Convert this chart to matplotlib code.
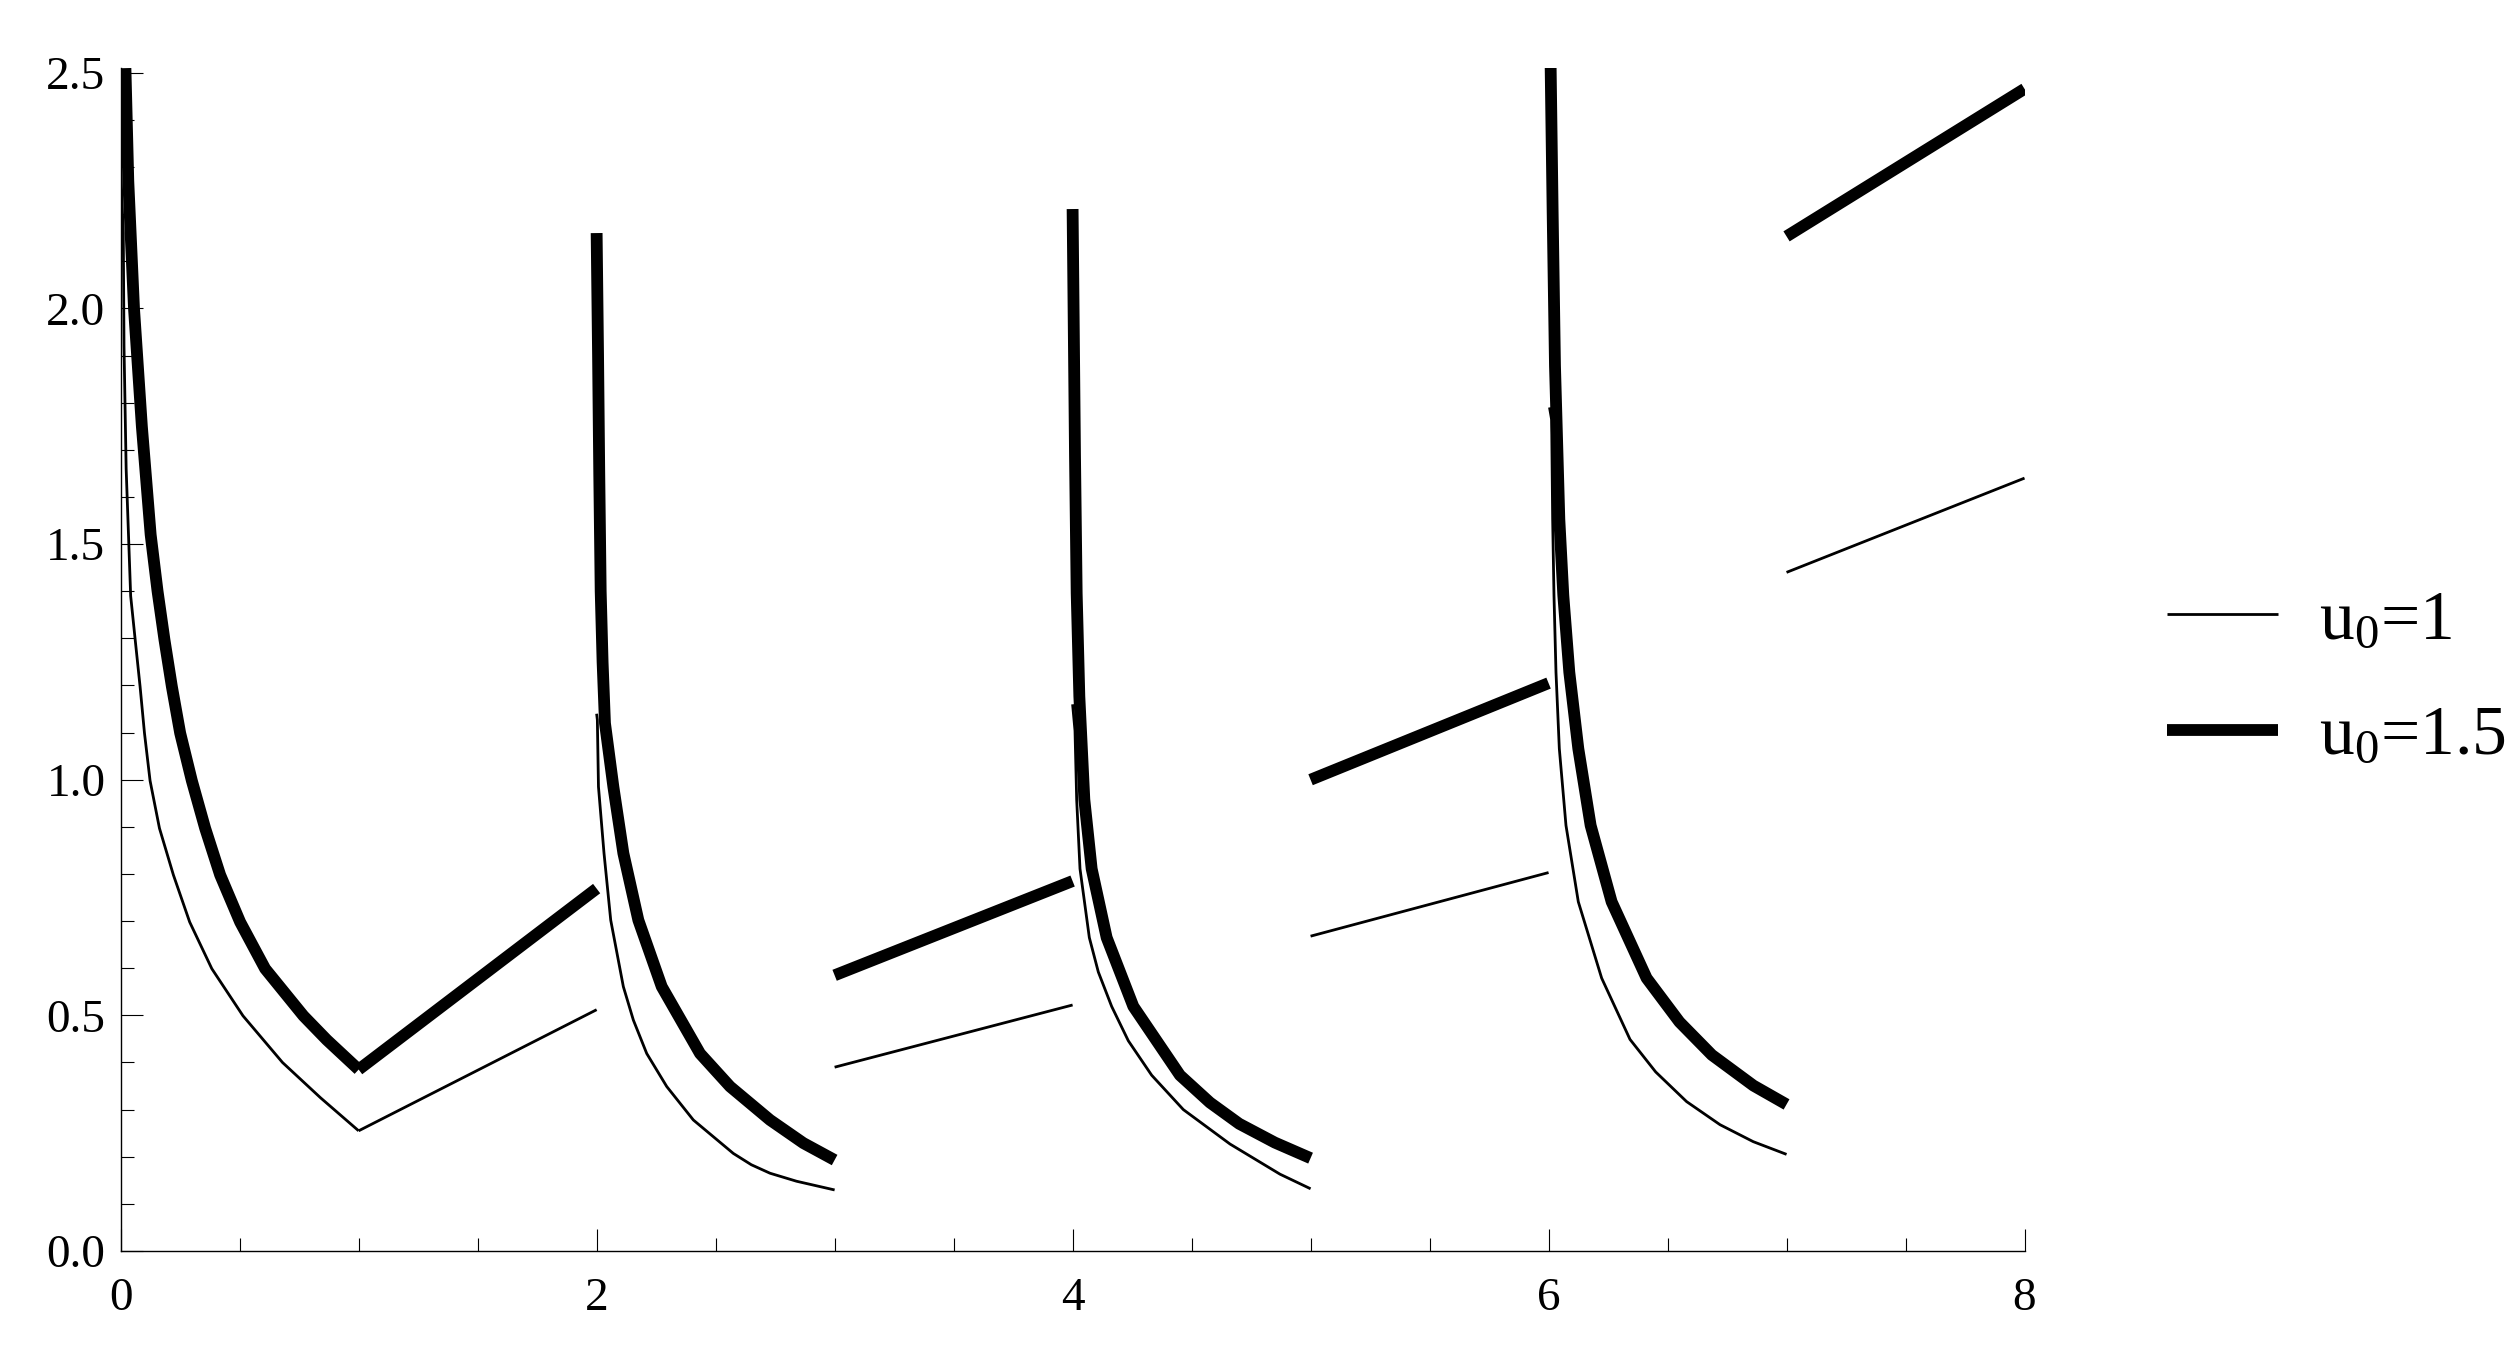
import matplotlib
matplotlib.use("Agg")
import matplotlib.pyplot as plt
import numpy as np

plt.rcParams["font.family"] = ["Liberation Serif", "DejaVu Serif"]
plt.rcParams["mathtext.default"] = "regular"

# u0 = 1 (thin line), one list per time interval
thin_t = [
    [0.0, 0.011, 0.014, 0.023, 0.042, 0.061, 0.0815, 0.10, 0.1235, 0.163, 0.2215,
     0.29, 0.383, 0.514, 0.68, 0.84, 1.0],
    [1.0, 2.0],
    [2.0, 2.003, 2.0077, 2.031, 2.0592, 2.1122, 2.1543, 2.2105, 2.2945, 2.4063,
     2.5744, 2.65, 2.7286, 2.84, 3.0],
    [3.0, 4.0],
    [4.0, 4.0101, 4.0171, 4.0311, 4.0703, 4.1081, 4.1641, 4.2342, 4.3322, 4.4653,
     4.6613, 4.8714, 5.0],
    [5.0, 6.0],
    [6.004, 6.0129, 6.0172, 6.0228, 6.0312, 6.0452, 6.0732, 6.125, 6.2231, 6.3422,
     6.45, 6.58, 6.7204, 6.86, 7.0],
    [7.0, 8.0],
]
thin_u = [
    [2.3, 2.16, 1.92, 1.66, 1.39, 1.297, 1.198, 1.099, 0.998, 0.897, 0.798,
     0.698, 0.599, 0.499, 0.40, 0.325, 0.255],
    [0.255, 0.512],
    [1.14, 1.127, 0.985, 0.844, 0.702, 0.561, 0.49, 0.419, 0.349, 0.278,
     0.207, 0.183, 0.165, 0.148, 0.1295],
    [0.39, 0.522],
    [1.16, 1.104, 0.958, 0.811, 0.665, 0.592, 0.519, 0.446, 0.373, 0.30,
     0.227, 0.163, 0.132],
    [0.668, 0.803],
    [1.79, 1.764, 1.553, 1.391, 1.228, 1.066, 0.903, 0.741, 0.579, 0.449,
     0.38, 0.317, 0.268, 0.232, 0.205],
    [1.44, 1.64],
]

# u0 = 1.5 (thick line)
thick_t = [
    [0.02, 0.032, 0.056, 0.089, 0.126, 0.155, 0.184, 0.215, 0.25, 0.299, 0.355,
     0.418, 0.502, 0.607, 0.768, 0.866, 1.0],
    [1.0, 2.0],
    [2.0, 2.006, 2.011, 2.017, 2.025, 2.035, 2.0703, 2.1123, 2.1753, 2.2735,
     2.4345, 2.5605, 2.7286, 2.8686, 3.0],
    [3.0, 4.0],
    [4.0, 4.0045, 4.0101, 4.0171, 4.0283, 4.0493, 4.0801, 4.1431, 4.2552, 4.451,
     4.577, 4.70, 4.85, 5.0],
    [5.0, 6.0],
    [6.0088, 6.0172, 6.027, 6.0452, 6.062, 6.0872, 6.125, 6.1768, 6.265, 6.412,
     6.55, 6.6862, 6.8608, 7.0],
    [7.0, 8.0],
]
thick_u = [
    [2.51, 2.27, 2.0, 1.75, 1.52, 1.40, 1.297, 1.198, 1.099, 0.998, 0.897,
     0.798, 0.698, 0.599, 0.499, 0.448, 0.385],
    [0.385, 0.769],
    [2.16, 1.90, 1.65, 1.40, 1.25, 1.12, 0.985, 0.844, 0.702, 0.561,
     0.419, 0.349, 0.278, 0.229, 0.193],
    [0.585, 0.785],
    [2.211, 1.981, 1.688, 1.396, 1.177, 0.958, 0.811, 0.665, 0.519, 0.373,
     0.315, 0.27, 0.23, 0.197],
    [1.0, 1.205],
    [2.511, 2.203, 1.878, 1.553, 1.391, 1.228, 1.066, 0.903, 0.741, 0.579,
     0.486, 0.416, 0.351, 0.311],
    [2.153, 2.466],
]

fig = plt.figure(figsize=(25.14, 13.45), dpi=100)
ax = fig.add_axes([0.048, 0.0699, 0.7573, 0.8798])

for i, (t, u) in enumerate(zip(thin_t, thin_u)):
    ax.plot(t, u, color="black", lw=2.0, solid_capstyle="butt",
            solid_joinstyle="round", label="u$_0$=1" if i == 0 else None)
for i, (t, u) in enumerate(zip(thick_t, thick_u)):
    ax.plot(t, u, color="black", lw=8.5, solid_capstyle="butt",
            solid_joinstyle="round", label="u$_0$=1.5" if i == 0 else None)

ax.set_xlim(0, 8)
ax.set_ylim(0, 2.511)

ax.spines["top"].set_visible(False)
ax.spines["right"].set_visible(False)
ax.spines["left"].set_linewidth(1.0)
ax.spines["bottom"].set_linewidth(1.0)

ax.set_xticks([0, 2, 4, 6, 8])
ax.set_xticks(np.arange(0, 8.01, 0.5), minor=True)
ax.set_yticks([0.0, 0.5, 1.0, 1.5, 2.0, 2.5])
ax.set_yticklabels(["0.0", "0.5", "1.0", "1.5", "2.0", "2.5"])
ax.set_yticks(np.arange(0, 2.51, 0.1), minor=True)

ax.tick_params(which="major", direction="in", length=15.8, width=0.8, labelsize=34)
ax.tick_params(which="minor", direction="in", length=9.4, width=0.8)
ax.tick_params(axis="x", which="major", pad=19)
ax.tick_params(axis="y", which="major", pad=11)

leg = ax.legend(loc="center left", bbox_to_anchor=(0.837, 0.495),
                bbox_transform=fig.transFigure, frameon=False, fontsize=50,
                handlelength=1.6, handletextpad=0.6, labelspacing=0.75)

fig.savefig("out.png", dpi=100)
